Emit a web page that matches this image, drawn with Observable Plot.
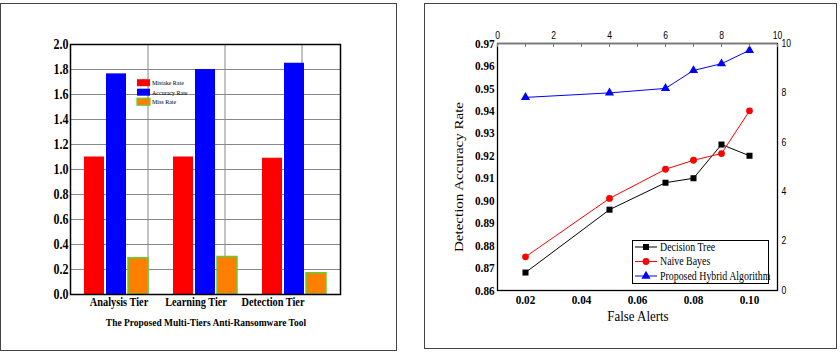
<!DOCTYPE html>
<html>
<head>
<meta charset="utf-8">
<script src="https://cdn.jsdelivr.net/npm/d3@7"></script>
<script src="https://cdn.jsdelivr.net/npm/@observablehq/plot@0.6"></script>
<style>
  body { margin: 0; background: #fff; }
  #page { position: relative; width: 840px; height: 352px; overflow: hidden; font-family: "Liberation Serif", "Times New Roman", serif; }
  .panel { position: absolute; box-sizing: border-box; border: 1.5px solid #444; }
  .layer { position: absolute; top: 0; overflow: visible; }
  .lbl { position: absolute; white-space: nowrap; color: #000; line-height: 1; }
</style>
</head>
<body>
<div id="page"></div>
<script>
// ---- Multi-tier tool: rates per tier ----
const tiers = ["Analysis Tier", "Learning Tier", "Detection Tier"];
const rateNames = ["Mistake Rate", "Accuracy Rate", "Miss Rate"];
const mistakeRate = [1.10, 1.10, 1.09];
const accuracyRate = [1.765, 1.80, 1.85];
const missRate = [0.29, 0.30, 0.17];
const rateTicks = [0, 0.2, 0.4, 0.6, 0.8, 1.0, 1.2, 1.4, 1.6, 1.8, 2.0];
const rateDomain = [0, 2];

// ---- Detection accuracy against false alerts ----
const falseAlerts = [0.02, 0.05, 0.07, 0.08, 0.09, 0.10];
const decisionTree = [0.868, 0.896, 0.908, 0.910, 0.925, 0.920];
const naiveBayes = [0.875, 0.901, 0.914, 0.918, 0.921, 0.940];
const hybrid = [0.946, 0.948, 0.950, 0.958, 0.961, 0.967];
const methodNames = ["Decision Tree", "Naive Bayes", "Proposed Hybrid Algorithm"];
const alertTicks = [0.02, 0.04, 0.06, 0.08, 0.10];
const alertDomain = [0.01, 0.11];
const accuracyTicks = [0.86, 0.87, 0.88, 0.89, 0.90, 0.91, 0.92, 0.93, 0.94, 0.95, 0.96, 0.97];
const accuracyDomain = [0.86, 0.97];
const auxTicks = [0, 2, 4, 6, 8, 10];
const auxMinorTicks = [0, 1, 2, 3, 4, 5, 6, 7, 8, 9, 10];
const auxDomain = [0, 10];

const K = 0.86;               // horizontal condensing of all lettering
const SERIF = "Liberation Serif";
const SANS = "Liberation Sans";
const page = document.getElementById("page");

function panel(left, top, w, h) {
  const d = document.createElement("div");
  d.className = "panel";
  Object.assign(d.style, {left: left + "px", top: top + "px", width: w + "px", height: h + "px"});
  page.append(d);
}
function place(svg, left) {
  svg.classList.add("layer");
  svg.style.left = left + "px";
  page.append(svg);
  return svg;
}
function label(text, cx, cy, size, weight, rotate) {
  const d = document.createElement("div");
  d.className = "lbl";
  d.textContent = text;
  Object.assign(d.style, {left: cx + "px", top: cy + "px", fontSize: size + "px", fontWeight: weight, fontFamily: SERIF});
  d.style.transform = rotate
    ? `translate(-50%,-50%) rotate(-90deg) scaleY(${K})`
    : `translate(-50%,-50%) scaleX(${K})`;
  page.append(d);
}
// Narrow every SVG text horizontally about its anchor point.
function condense(svg) {
  for (const t of svg.querySelectorAll("text")) {
    if (!t.textContent) continue;
    const b = t.getBBox();
    const base = t.getAttribute("transform") || "";
    if (/rotate/.test(base)) {
      const cy = b.y + b.height / 2;
      t.setAttribute("transform", `${base} translate(0,${cy}) scale(1,${K}) translate(0,${-cy})`);
    } else {
      const a = getComputedStyle(t).textAnchor;
      const ax = a === "end" ? b.x + b.width : a === "middle" ? b.x + b.width / 2 : b.x;
      t.setAttribute("transform", `${base} translate(${ax},0) scale(${K},1) translate(${-ax},0)`);
    }
  }
}

// ================= Left panel: grouped bars =================
panel(0, 3, 397, 348);
const leftDims = {width: 396, height: 352, marginLeft: 70, marginRight: 56, marginTop: 44, marginBottom: 58};

// grid and tier captions
place(Plot.plot({
  ...leftDims,
  style: {background: "transparent", fontFamily: SERIF, fontSize: "12px", fontWeight: "bold", color: "#000", overflow: "visible"},
  x: {type: "band", domain: tiers, paddingInner: 0, paddingOuter: 0.253, align: 1},
  y: {domain: rateDomain, axis: null},
  marks: [
    Plot.gridY(rateTicks, {stroke: "#888", strokeOpacity: 1}),
    Plot.gridX({stroke: "#888", strokeOpacity: 1}),
    Plot.axisX({tickSize: 0, tickPadding: 3, dx: -29, label: null})
  ]
}), 0);

// bars, value axis and frame
const bw = 64;       // width of one tier group in px
const barW = 20, gap = 2;
const rateSeries = [
  {values: mistakeRate, fill: "#ff0000", stroke: "none"},
  {values: accuracyRate, fill: "#0000ff", stroke: "none"},
  {values: missRate, fill: "#ff8000", stroke: "#66cc33"}
];
place(Plot.plot({
  ...leftDims,
  style: {background: "transparent", fontFamily: SERIF, fontSize: "14px", fontWeight: "bold", color: "#000", overflow: "visible"},
  x: {type: "band", domain: tiers, paddingInner: 0.285, paddingOuter: 0.151, axis: null},
  y: {domain: rateDomain},
  marks: [
    ...rateSeries.map((s, k) => Plot.barY(s.values, {
      x: tiers, y: s.values, fill: s.fill, stroke: s.stroke, strokeWidth: 1.5,
      insetLeft: k * (barW + gap), insetRight: bw - barW - k * (barW + gap)
    })),
    Plot.axisY({ticks: rateTicks, tickFormat: d3.format(".1f"), tickSize: 0, tickPadding: 2, label: null}),
    Plot.frame({stroke: "#000", strokeWidth: 1.5})
  ]
}), 0);

// legend inside the plot area
const legL = d3.create("svg").attr("class", "layer").attr("width", 70).attr("height", 30)
  .style("left", "136px").style("top", "78px");
rateSeries.forEach((s, i) => {
  const y = 4.7 + i * 9.5;
  legL.append("rect").attr("x", 1).attr("y", y - 3.5).attr("width", 13).attr("height", 7)
    .attr("fill", s.fill).attr("stroke", s.stroke).attr("stroke-width", 1.2);
  legL.append("text").attr("x", 16).attr("y", y).attr("dy", "0.33em")
    .attr("font-family", SERIF).attr("font-size", 7).text(rateNames[i]);
});
page.append(legL.node());

label("The Proposed Multi-Tiers Anti-Ransomware Tool", 205.5, 322, 11, "bold", false);

// ================= Right panel: accuracy lines =================
panel(424, 3, 413, 346);
const rightDims = {width: 416, height: 352, marginLeft: 73, marginRight: 63, marginTop: 43, marginBottom: 62};
const methods = [
  {values: decisionTree, color: "#000", symbol: "square"},
  {values: naiveBayes, color: "#ff0000", symbol: "circle"},
  {values: hybrid, color: "#0000ff", symbol: "triangle"}
];

place(Plot.plot({
  ...rightDims,
  style: {background: "transparent", fontFamily: SERIF, fontSize: "13px", fontWeight: "bold", color: "#000", overflow: "visible"},
  x: {domain: alertDomain},
  y: {domain: accuracyDomain},
  marks: [
    ...methods.map(m => Plot.line(m.values, {x: falseAlerts, y: m.values, stroke: m.color, strokeWidth: 1})),
    ...methods.map(m => Plot.dot(m.values, {x: falseAlerts, y: m.values, symbol: m.symbol, fill: m.color, stroke: "none", r: 3.4})),
    Plot.axisX({ticks: alertTicks, tickFormat: d3.format(".2f"), tickSize: 0, tickPadding: 4, label: null}),
    Plot.axisY({ticks: accuracyTicks, tickFormat: d3.format(".2f"), tickSize: 0, tickPadding: 3, label: null}),
    Plot.frame({stroke: "#000", strokeWidth: 1.3})
  ]
}), 424);

// secondary top and right scales
place(Plot.plot({
  ...rightDims,
  style: {background: "transparent", fontFamily: SANS, fontSize: "10px", color: "#000", overflow: "visible"},
  x: {domain: auxDomain},
  y: {domain: auxDomain},
  marks: [
    Plot.ruleY([auxDomain[1]], {stroke: "#777", strokeWidth: 1.3}),
    Plot.axisX({anchor: "top", ticks: auxMinorTicks, tickSize: -3, tickFormat: () => "", label: null, stroke: "#777"}),
    Plot.axisX({anchor: "top", ticks: auxTicks, tickSize: 0, tickPadding: 4.5, label: null}),
    Plot.axisY({anchor: "right", ticks: auxTicks, tickSize: 0, tickPadding: 4, label: null})
  ]
}), 424);

// legend box
const legR = d3.create("svg").attr("class", "layer").attr("width", 137).attr("height", 44)
  .style("left", "632px").style("top", "240px");
legR.append("rect").attr("x", 0.5).attr("y", 0.5).attr("width", 136).attr("height", 43)
  .attr("fill", "#fff").attr("stroke", "#000").attr("stroke-width", 1);
const symbolOf = {square: d3.symbolSquare, circle: d3.symbolCircle, triangle: d3.symbolTriangle};
methods.forEach((m, i) => {
  const y = 7 + i * 14.5;
  legR.append("line").attr("x1", 3).attr("x2", 25).attr("y1", y).attr("y2", y).attr("stroke", m.color);
  legR.append("path").attr("transform", `translate(14,${y})`)
    .attr("d", d3.symbol(symbolOf[m.symbol], Math.PI * 3.4 * 3.4)()).attr("fill", m.color);
  legR.append("text").attr("x", 28).attr("y", y).attr("dy", "0.33em")
    .attr("font-family", SERIF).attr("font-size", 11.5).text(methodNames[i]);
});
page.append(legR.node());

label("Detection Accuracy Rate", 459, 177, 15, "normal", true);
label("False Alerts", 638, 316, 15, "normal", false);

for (const s of page.querySelectorAll("svg")) condense(s);
</script>
</body>
</html>
